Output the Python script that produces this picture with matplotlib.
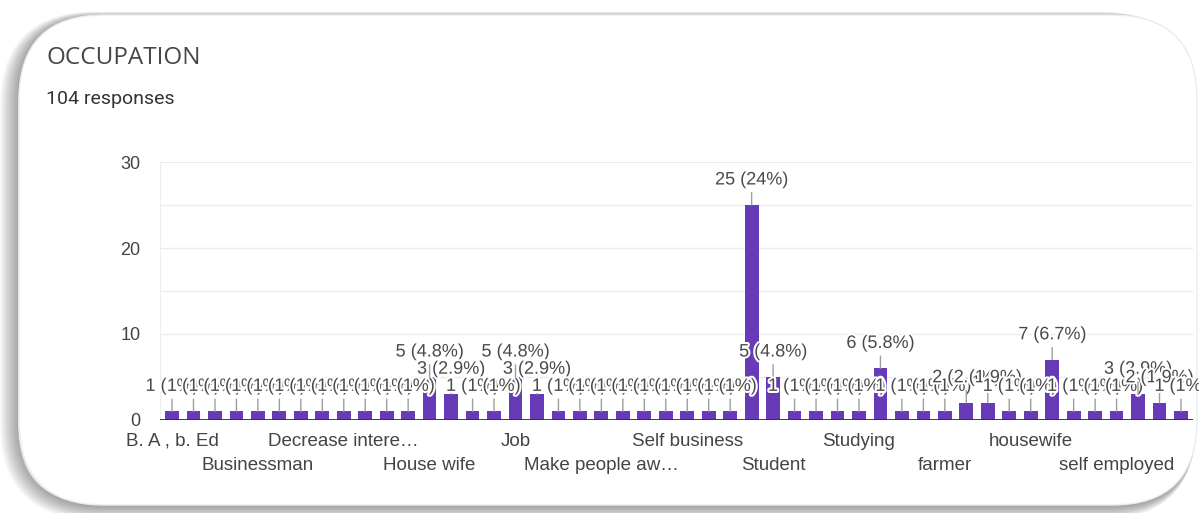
import numpy as np
import matplotlib.pyplot as plt
import matplotlib.patheffects as pe
from matplotlib.patches import FancyBboxPatch

plt.rcParams['font.family'] = ['Liberation Sans', 'DejaVu Sans']

title = 'OCCUPATION'
n_responses = 104
# answers per category, in the order the form lists them
counts = [1, 1, 1, 1, 1, 1, 1, 1, 1, 1, 1, 1,
          5, 3, 1, 1, 5, 3,
          1, 1, 1, 1, 1, 1, 1, 1, 1,
          25, 5, 1, 1, 1, 1, 6, 1, 1, 1,
          2, 2, 1, 1, 7, 1, 1, 1, 3, 2, 1]
# only every 4th category gets an axis label
tick_labels = ['B. A , b. Ed', 'Businessman', 'Decrease intere\u2026', 'House wife',
               'Job', 'Make people aw\u2026', 'Self business', 'Student',
               'Studying', 'farmer', 'housewife', 'self employed']
yticks = [0, 10, 20, 30]

W, H = 1199, 513
fig = plt.figure(figsize=(W / 100, H / 100), dpi=100)
fig.patch.set_facecolor('white')

# card with a soft shadow, heavier on the left
bg = fig.add_axes([0, 0, 1, 1])
bg.set_xlim(0, W)
bg.set_ylim(H, 0)
bg.axis('off')
for k in range(9, 0, -1):
    sh = FancyBboxPatch((19 - k * 1.1, 16 + k * 0.5), 1178, 490,
                        boxstyle='round,pad=0,rounding_size=85',
                        fc='none', ec='#000000', lw=k * 1.4, alpha=0.045)
    bg.add_patch(sh)
card = FancyBboxPatch((19, 15), 1178, 490, boxstyle='round,pad=0,rounding_size=85',
                      fc='white', ec='#ececec', lw=1.0)
bg.add_patch(card)
bg.text(46, 58, title, fontsize=17.5, color='#474747', va='center', ha='left',
        family=['Open Sans', 'DejaVu Sans'])
bg.text(46, 99, f'{n_responses} responses', fontsize=14, color='#333333',
        va='center', ha='left', family=['Roboto', 'DejaVu Sans'])

# bar chart
ax = fig.add_axes([160 / W, (H - 420) / H, 1033 / W, 258 / H])
ax.set_facecolor('none')
x = np.arange(len(counts))
ax.bar(x, counts, width=0.64, color='#673ab7', zorder=2)
ax.set_xlim(-0.56, len(counts) - 0.44)
ax.set_ylim(0, 30)

ax.set_yticks(yticks)
ax.set_yticks([5, 15, 25], minor=True)
ax.yaxis.grid(True, which='both', color='#ececec', lw=1, zorder=0)
ax.axhline(0, color='#333333', lw=1.3, zorder=3)
ax.tick_params(axis='y', which='both', length=0, pad=14, labelsize=13, labelcolor='#444444')

ax.set_xticks(x[0::8], tick_labels[0::2])
ax.set_xticks(x[4::8], tick_labels[1::2], minor=True)
ax.tick_params(axis='x', which='major', length=0, pad=9, labelsize=13.5, labelcolor='#444444')
ax.tick_params(axis='x', which='minor', length=0, pad=27, labelsize=13.5, labelcolor='#444444')

for side in ['top', 'right', 'bottom']:
    ax.spines[side].set_visible(False)
ax.spines['left'].set_color('#eeeeee')

# value labels with stems; later labels sit over earlier ones
aura = [pe.withStroke(linewidth=3, foreground='white')]
for i, v in enumerate(counts):
    pct = round(v / n_responses * 100, 1)
    pct_txt = f'{pct:g}'
    ax.annotate(f'{v} ({pct_txt}%)', xy=(i, v), xytext=(0, 18), textcoords='offset points',
                ha='center', va='center', fontsize=13, color='#4a4a4a',
                path_effects=aura, zorder=4 + i * 0.01,
                arrowprops=dict(arrowstyle='-', color='#9e9e9e', lw=1, shrinkA=1, shrinkB=0))

fig.savefig('out.png', dpi=100)
